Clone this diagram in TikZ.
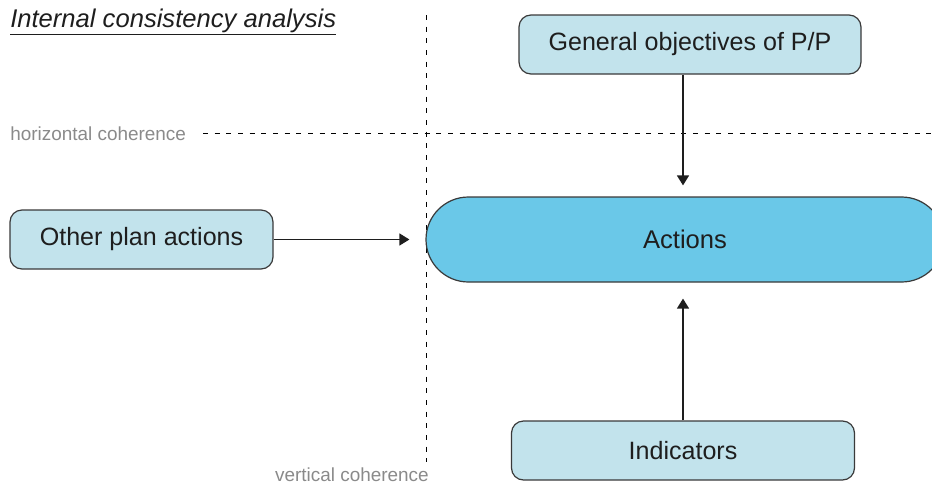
\documentclass[tikz,border=0pt]{standalone}
\usepackage{fontspec}
\setmainfont{Liberation Sans}
\usetikzlibrary{arrows.meta}

\definecolor{boxfill}{HTML}{C2E3EC}
\definecolor{actfill}{HTML}{6AC8E8}
\definecolor{boxline}{HTML}{3A3A3A}
\definecolor{note}{HTML}{8A8A8A}
\definecolor{ink}{HTML}{1E1E1E}

\tikzset{
  lightbox/.style={draw=boxline, line width=0.9pt, fill=boxfill, rounded corners=9pt,
    text=ink, font=\fontsize{18.8pt}{22pt}\selectfont, inner sep=0pt},
  mainbox/.style={draw=boxline, line width=0.9pt, fill=actfill, rounded corners=31.8pt,
    text=ink, font=\fontsize{19.2pt}{22pt}\selectfont, inner sep=0pt},
  guide/.style={draw=black, line width=0.7pt, dash pattern=on 3.75pt off 5pt},
  flow/.style={draw=ink, line width=1.1pt, -{Triangle[length=7.5pt,width=9pt]}},
  remark/.style={text=note, font=\fontsize{14.2pt}{17pt}\selectfont, inner sep=0pt},
}

\begin{document}
\begin{tikzpicture}[x=0.75pt, y=-0.75pt]
\useasboundingbox (0,0) rectangle (932,486);

% boundary lines between the coherence zones
\coordinate (vtop) at (426,15);
\coordinate (vbot) at (426,462);
\coordinate (hleft) at (203,133);
\coordinate (hright) at (940,133);
\draw[guide] (vtop) -- (vbot);
\draw[guide] (hleft) -- (hright);

% title and zone labels
\node[anchor=base west, inner sep=0pt, text=ink, font=\fontsize{19.2pt}{22pt}\selectfont]
  (title) at (10,27) {\underline{\textit{Internal consistency analysis}}};
\node[remark, anchor=base west] (hlab) at (10,140) {horizontal coherence};
\node[remark, anchor=base east] (vlab) at (429,481) {vertical coherence};

% boxes
\node[lightbox, minimum width=256.5pt, minimum height=44.25pt] (gen) at (690,44.5) {General objectives of P/P};
\node[lightbox, minimum width=197.25pt, minimum height=44.25pt] (other) at (141.5,239.5) {Other plan actions};
\node[lightbox, minimum width=257.25pt, minimum height=44.25pt] (ind) at (683,450.5) {Indicators};
\node[mainbox, minimum width=388.5pt, minimum height=63.75pt] (act) at (685,239.5) {Actions};

% connectors
\draw[flow, shorten >=8.25pt] (ind.north |- gen.south) -- (ind.north |- act.north);
\draw[flow, shorten >=12pt] (ind.north) -- (ind.north |- act.south);
\draw[flow, shorten >=12pt] (other.east) -- (act.west);
\end{tikzpicture}
\end{document}
